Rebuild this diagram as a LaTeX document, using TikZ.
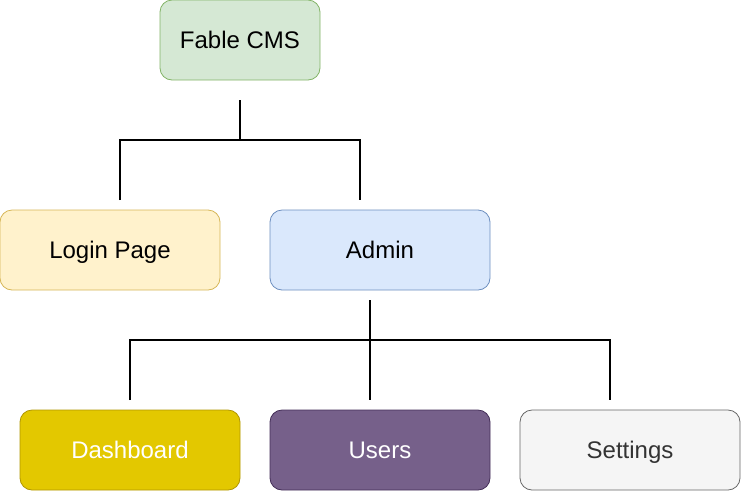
\documentclass[tikz,border=0pt]{standalone}
\usepackage{fontspec}
\setmainfont{Liberation Sans}

\definecolor{cmsfill}{HTML}{D5E8D4}
\definecolor{cmsline}{HTML}{82B366}
\definecolor{loginfill}{HTML}{FFF2CC}
\definecolor{loginline}{HTML}{D6B656}
\definecolor{adminfill}{HTML}{DAE8FC}
\definecolor{adminline}{HTML}{6C8EBF}
\definecolor{dashfill}{HTML}{E3C800}
\definecolor{dashline}{HTML}{B09500}
\definecolor{usersfill}{HTML}{76608A}
\definecolor{usersline}{HTML}{432D57}
\definecolor{setfill}{HTML}{F5F5F5}
\definecolor{setline}{HTML}{666666}
\definecolor{settext}{HTML}{333333}

\tikzset{
  page/.style={draw, rounded corners=12pt, line width=0.8pt, inner sep=0pt,
    minimum width=220pt, minimum height=80pt, text height=20pt, text depth=3pt,
    font=\fontsize{24}{28}\selectfont},
  tree/.style={draw=black, line width=1.5pt}
}

\begin{document}
\begin{tikzpicture}[x=1pt, y=-1pt]
    \useasboundingbox (0,0) rectangle (741,491);

    % ノードの定義
    \node[page, minimum width=160pt, fill=cmsfill, draw=cmsline] (cms) at (240,40) {Fable CMS};
    \node[page, fill=loginfill, draw=loginline] (login) at (110,250) {Login Page};
    \node[page, fill=adminfill, draw=adminline] (admin) at (380,250) {Admin};
    \node[page, fill=dashfill, draw=dashline, text=white] (dash) at (130,450) {Dashboard};
    \node[page, fill=usersfill, draw=usersline, text=white] (users) at (380,450) {Users};
    \node[page, fill=setfill, draw=setline, text=settext] (settings) at (630,450) {Settings};

    % 枝の端点
    \coordinate (cmsout) at (240,100);
    \coordinate (cmsbar) at (240,140);
    \coordinate (loginin) at (120,200);
    \coordinate (adminin) at (360,200);
    \coordinate (adminout) at (370,300);
    \coordinate (adminbar) at (370,340);
    \coordinate (dashin) at (130,400);
    \coordinate (usersin) at (370,400);
    \coordinate (setin) at (610,400);

    % 枝を描く
    \draw[tree] (cmsout) -- (cmsbar);
    \draw[tree] (loginin) |- (cmsbar) -| (adminin);
    \draw[tree] (adminout) -- (usersin);
    \draw[tree] (dashin) |- (adminbar) -| (setin);

  \end{tikzpicture}
\end{document}
